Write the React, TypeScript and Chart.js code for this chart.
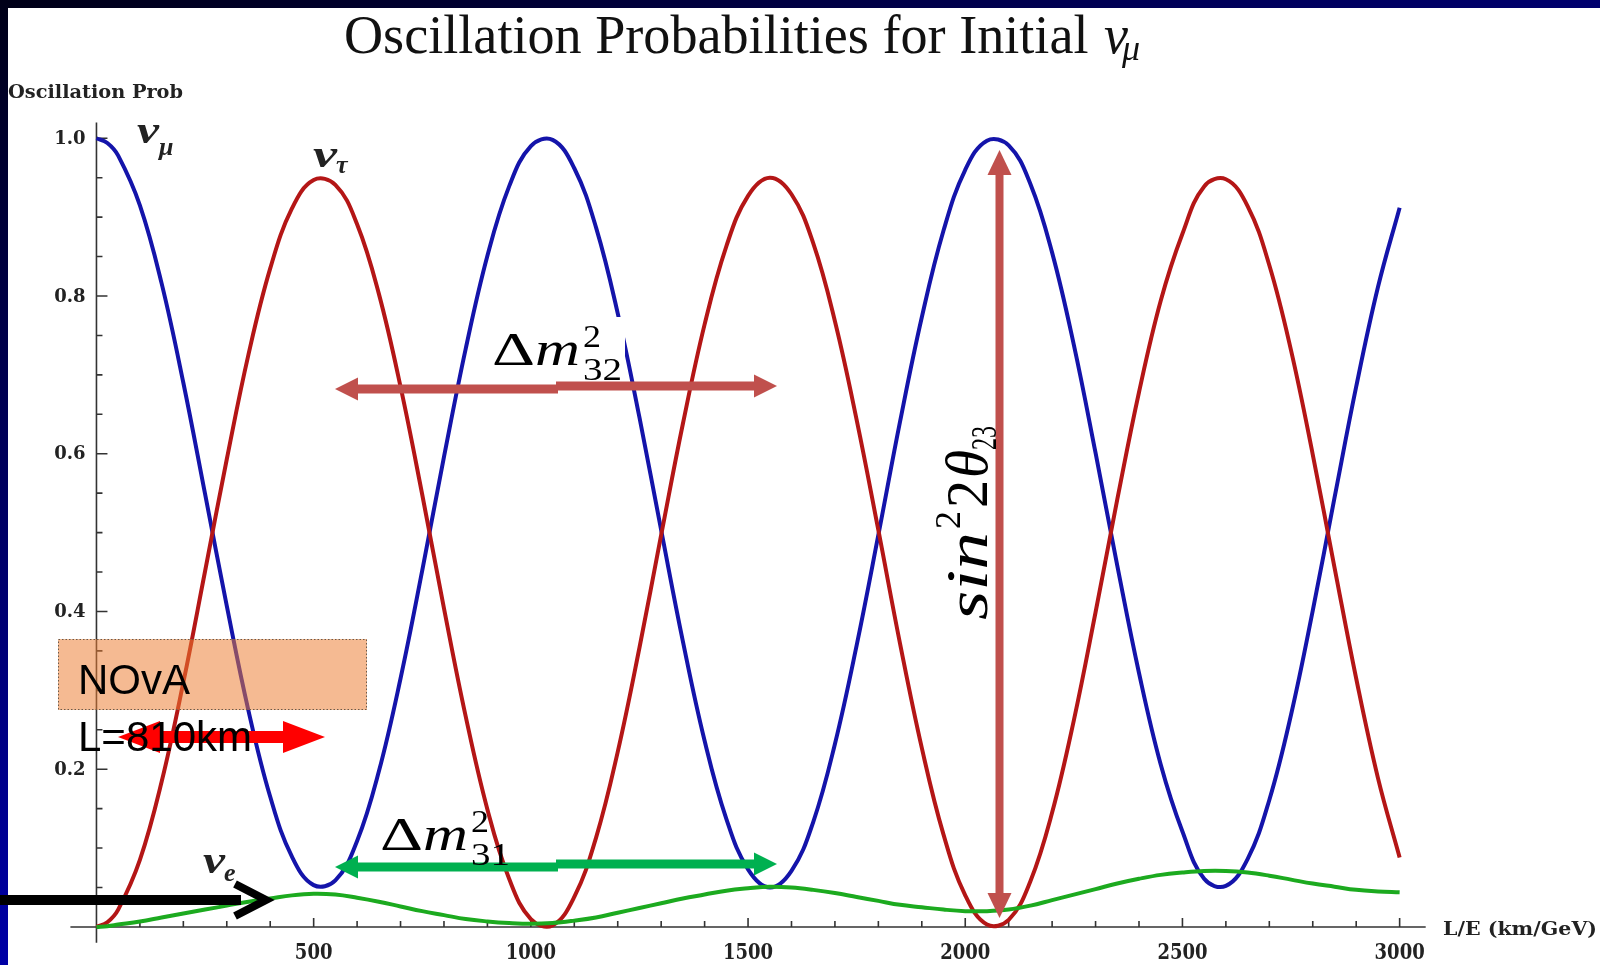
import React, { useEffect, useRef } from "react";
import { Chart, registerables } from "chart.js";

Chart.register(...registerables);

const W = 1600;
const H = 965;

// L/E (km/GeV) sample points
const L_OVER_E = [
  0, 25, 50, 100, 150, 200, 250, 300, 350, 400, 450, 500, 550, 600, 650, 700, 750, 800, 850, 900,
  950, 1000, 1050, 1100, 1150, 1200, 1250, 1300, 1350, 1400, 1450, 1500, 1550, 1600, 1650, 1700,
  1750, 1800, 1850, 1900, 1950, 2000, 2050, 2100, 2150, 2200, 2250, 2300, 2350, 2400, 2450, 2500,
  2550, 2600, 2650, 2700, 2750, 2800, 2850, 2900, 2950, 3000,
];

// nu_mu survival probability (blue)
const P_MU = [
  1.0, 0.994, 0.978, 0.915, 0.816, 0.69, 0.549, 0.407, 0.274, 0.165, 0.089, 0.053, 0.059, 0.109,
  0.197, 0.315, 0.452, 0.596, 0.733, 0.851, 0.939, 0.99, 0.998, 0.962, 0.887, 0.778, 0.646, 0.503,
  0.362, 0.236, 0.137, 0.073, 0.05, 0.071, 0.133, 0.232, 0.357, 0.497, 0.641, 0.773, 0.883, 0.96,
  0.997, 0.991, 0.942, 0.855, 0.738, 0.601, 0.458, 0.322, 0.206, 0.121, 0.061, 0.052, 0.086, 0.161,
  0.269, 0.401, 0.544, 0.685, 0.811, 0.912,
];

// nu_tau appearance probability (red)
const P_TAU = [
  0.0, 0.006, 0.022, 0.085, 0.184, 0.31, 0.451, 0.593, 0.726, 0.835, 0.911, 0.947, 0.941, 0.891,
  0.803, 0.685, 0.548, 0.404, 0.267, 0.149, 0.061, 0.01, 0.002, 0.038, 0.113, 0.222, 0.354, 0.497,
  0.638, 0.764, 0.863, 0.927, 0.95, 0.929, 0.867, 0.768, 0.643, 0.503, 0.359, 0.227, 0.117, 0.04,
  0.003, 0.009, 0.058, 0.145, 0.262, 0.399, 0.542, 0.678, 0.794, 0.879, 0.939, 0.948, 0.914, 0.839,
  0.731, 0.599, 0.456, 0.315, 0.189, 0.088,
];

// nu_e appearance probability (green)
const P_E = [
  0.0, 0.001, 0.003, 0.007, 0.012, 0.017, 0.022, 0.027, 0.032, 0.036, 0.04, 0.042, 0.041, 0.037,
  0.032, 0.026, 0.02, 0.015, 0.01, 0.007, 0.005, 0.004, 0.005, 0.008, 0.012, 0.018, 0.024, 0.03,
  0.036, 0.041, 0.046, 0.049, 0.051, 0.05, 0.047, 0.043, 0.038, 0.033, 0.028, 0.025, 0.022, 0.02,
  0.02, 0.022, 0.027, 0.034, 0.041, 0.048, 0.055, 0.061, 0.066, 0.069, 0.071, 0.071, 0.069, 0.065,
  0.06, 0.055, 0.051, 0.047, 0.045, 0.044,
];

const X_TICK_VALUES = [500, 1000, 1500, 2000, 2500, 3000];
const X_TICK_LABELS = ["500", "1000", "1500", "2000", "2500", "3000"];
const Y_TICK_VALUES = [0.2, 0.4, 0.6, 0.8, 1.0];
const Y_TICK_LABELS = ["0.2", "0.4", "0.6", "0.8", "1.0"];

const TITLE = "Oscillation Probabilities for Initial ";
const Y_TITLE = "Oscillation Prob";
const X_TITLE = "L/E (km/GeV)";

const BLUE = "#1414aa";
const RED = "#b41616";
const GREEN = "#1caa1f";
const ARROW_RED = "#c0504d";
const ARROW_GREEN = "#00b050";
const MATH = "'Liberation Serif'";

function fitText(ctx: CanvasRenderingContext2D, text: string, x: number, y: number, width?: number) {
  const m = ctx.measureText(text).width;
  ctx.save();
  ctx.translate(x, y);
  if (width) ctx.scale(width / m, 1);
  ctx.fillText(text, 0, 0);
  ctx.restore();
}

function hArrow(ctx: CanvasRenderingContext2D, x1: number, x2: number, yL: number, yR: number, xm: number, color: string, shaft: number, headLen: number, headH: number) {
  ctx.save();
  ctx.fillStyle = color;
  ctx.fillRect(x1 + headLen - 1, yL - shaft / 2, xm - (x1 + headLen) + 3, shaft);
  ctx.fillRect(xm, yR - shaft / 2, x2 - headLen - xm + 1, shaft);
  ctx.beginPath();
  ctx.moveTo(x1, yL);
  ctx.lineTo(x1 + headLen, yL - headH / 2);
  ctx.lineTo(x1 + headLen, yL + headH / 2);
  ctx.closePath();
  ctx.fill();
  ctx.beginPath();
  ctx.moveTo(x2, yR);
  ctx.lineTo(x2 - headLen, yR - headH / 2);
  ctx.lineTo(x2 - headLen, yR + headH / 2);
  ctx.closePath();
  ctx.fill();
  ctx.restore();
}

function deltaM(ctx: CanvasRenderingContext2D, x: number, base: number, sub: string) {
  ctx.fillStyle = "#000";
  ctx.font = `46px ${MATH}`;
  fitText(ctx, "\u0394", x, base, 43);
  ctx.font = `italic 48px ${MATH}`;
  fitText(ctx, "m", x + 43, base, 45);
  ctx.font = `32px ${MATH}`;
  fitText(ctx, "2", x + 91, base - 18, 18);
  fitText(ctx, sub, x + 91, base + 15, 39);
}

const overlayPlugin = {
  id: "overlay",
  beforeDraw(chart: any) {
    const ctx: CanvasRenderingContext2D = chart.ctx;
    ctx.save();
    ctx.fillStyle = "#ffffff";
    ctx.fillRect(0, 0, W, H);
    let g = ctx.createLinearGradient(0, 0, W, 0);
    g.addColorStop(0, "#000018");
    g.addColorStop(1, "#00006e");
    ctx.fillStyle = g;
    ctx.fillRect(0, 0, W, 8);
    g = ctx.createLinearGradient(0, 0, 0, H);
    g.addColorStop(0, "#000018");
    g.addColorStop(1, "#0000a6");
    ctx.fillStyle = g;
    ctx.fillRect(0, 0, 8, H);

    // Title
    ctx.fillStyle = "#111";
    ctx.textBaseline = "alphabetic";
    ctx.textAlign = "left";
    ctx.font = "54px 'Liberation Serif'";
    fitText(ctx, TITLE, 344, 53, 758);
    ctx.font = "italic 54px 'Liberation Serif'";
    ctx.fillText("\u03bd", 1104, 53);
    ctx.font = "italic 36px 'Liberation Serif'";
    ctx.fillText("\u03bc", 1122, 60);

    // Y title
    ctx.fillStyle = "#222";
    ctx.font = "bold 18px 'DejaVu Serif'";
    fitText(ctx, Y_TITLE, 8, 98, 175);
    ctx.restore();
  },
  beforeDatasetsDraw(chart: any) {
    const ctx: CanvasRenderingContext2D = chart.ctx;
    const xs = chart.scales.x;
    const ys = chart.scales.y;
    const x0 = xs.getPixelForValue(0);
    const y0 = ys.getPixelForValue(0);
    ctx.save();
    ctx.strokeStyle = "#333";
    ctx.lineWidth = 1.6;
    ctx.beginPath();
    ctx.moveTo(xs.left, y0);
    ctx.lineTo(xs.right, y0);
    ctx.moveTo(x0, ys.top);
    ctx.lineTo(x0, ys.bottom);
    for (let v = 100; v <= 3000; v += 100) {
      const p = xs.getPixelForValue(v);
      const len = v % 500 === 0 ? 9 : 6;
      ctx.moveTo(p, y0);
      ctx.lineTo(p, y0 - len);
    }
    for (let k = 1; k <= 20; k++) {
      const p = ys.getPixelForValue(k * 0.05);
      const len = k % 4 === 0 ? 11 : 6;
      ctx.moveTo(x0, p);
      ctx.lineTo(x0 + len, p);
    }
    ctx.stroke();

    ctx.fillStyle = "#222";
    ctx.font = "bold 18px 'DejaVu Serif'";
    ctx.textAlign = "right";
    ctx.textBaseline = "middle";
    Y_TICK_VALUES.forEach((v, i) => {
      ctx.fillText(Y_TICK_LABELS[i], x0 - 11, ys.getPixelForValue(v) + 1);
    });
    ctx.textAlign = "center";
    ctx.textBaseline = "alphabetic";
    X_TICK_VALUES.forEach((v, i) => {
      const p = xs.getPixelForValue(v);
      ctx.save();
      ctx.translate(p, 959);
      ctx.scale(1, 1.2);
      ctx.fillText(X_TICK_LABELS[i], 0, 0);
      ctx.restore();
    });
    ctx.textAlign = "left";
    ctx.textBaseline = "middle";
    fitText(ctx, X_TITLE, 1443, 930, 154);
    ctx.restore();
  },
  afterDatasetsDraw(chart: any) {
    const ctx: CanvasRenderingContext2D = chart.ctx;
    ctx.save();
    ctx.textAlign = "left";
    ctx.textBaseline = "alphabetic";

    // series labels
    ctx.fillStyle = "#222";
    ctx.font = "bold italic 38px 'Liberation Serif'";
    fitText(ctx, "\u03bd", 137, 143, 22);
    fitText(ctx, "\u03bd", 313, 167, 24);
    fitText(ctx, "\u03bd", 203, 873, 22);
    ctx.font = "bold italic 26px 'Liberation Serif'";
    ctx.fillText("\u03bc", 159, 155);
    ctx.fillText("\u03c4", 336, 173);
    ctx.fillText("e", 224, 881);

    // Delta m^2_32 label with white background
    ctx.fillStyle = "#ffffff";
    ctx.fillRect(485, 317, 140, 66);
    hArrow(ctx, 335, 777, 389, 386, 556, ARROW_RED, 9, 23, 23);
    deltaM(ctx, 492, 365, "32");

    // Delta m^2_31 with green arrow
    hArrow(ctx, 335, 777, 867, 864, 556, ARROW_GREEN, 9, 23, 23);
    deltaM(ctx, 380, 850, "31");

    // vertical sin^2 2theta arrow
    ctx.fillStyle = ARROW_RED;
    const cx = 999.5;
    ctx.fillRect(cx - 4, 172, 8, 724);
    ctx.beginPath();
    ctx.moveTo(cx, 150);
    ctx.lineTo(cx - 12, 175);
    ctx.lineTo(cx + 12, 175);
    ctx.closePath();
    ctx.fill();
    ctx.beginPath();
    ctx.moveTo(cx, 918);
    ctx.lineTo(cx - 12, 893);
    ctx.lineTo(cx + 12, 893);
    ctx.closePath();
    ctx.fill();

    // rotated label
    ctx.save();
    ctx.translate(987, 620);
    ctx.rotate(-Math.PI / 2);
    ctx.fillStyle = "#000";
    ctx.font = `italic 60px ${MATH}`;
    fitText(ctx, "sin", 0, 0, 88);
    ctx.font = `36px ${MATH}`;
    fitText(ctx, "2", 91, -27, 18);
    ctx.font = `60px ${MATH}`;
    fitText(ctx, "2", 112, 0, 28);
    ctx.font = `italic 60px ${MATH}`;
    fitText(ctx, "\u03b8", 142, 0, 28);
    ctx.font = `36px ${MATH}`;
    fitText(ctx, "23", 170, 9, 24);
    ctx.restore();

    // NOvA box (semi-transparent)
    ctx.fillStyle = "rgba(237,125,49,0.53)";
    ctx.fillRect(58, 639, 309, 71);
    ctx.strokeStyle = "#6b5a4a";
    ctx.lineWidth = 1;
    ctx.setLineDash([1.5, 2]);
    ctx.strokeRect(58.5, 639.5, 308, 70);
    ctx.setLineDash([]);
    ctx.fillStyle = "#000";
    ctx.font = "42px 'Liberation Sans'";
    fitText(ctx, "NOvA", 78, 694, 112);

    // red double arrow (NOvA)
    ctx.fillStyle = "#ff0000";
    ctx.fillRect(158, 731, 127, 12);
    ctx.beginPath();
    ctx.moveTo(118, 737);
    ctx.lineTo(160, 721);
    ctx.lineTo(160, 753);
    ctx.closePath();
    ctx.fill();
    ctx.beginPath();
    ctx.moveTo(325, 737);
    ctx.lineTo(283, 721);
    ctx.lineTo(283, 753);
    ctx.closePath();
    ctx.fill();
    ctx.fillStyle = "#000";
    ctx.font = "42px 'Liberation Sans'";
    fitText(ctx, "L=810km", 78, 751, 174);

    // black pointer arrow to nu_e
    ctx.fillStyle = "#000";
    ctx.fillRect(0, 895, 241, 10);
    ctx.strokeStyle = "#000";
    ctx.lineWidth = 8;
    ctx.lineJoin = "miter";
    ctx.beginPath();
    ctx.moveTo(235, 884);
    ctx.lineTo(266, 900);
    ctx.lineTo(235, 916);
    ctx.stroke();

    ctx.restore();
  },
};

export default function App() {
  const ref = useRef<HTMLCanvasElement | null>(null);
  useEffect(() => {
    if (!ref.current) return;
    const mk = (vals: number[]) => vals.map((v, i) => ({ x: L_OVER_E[i], y: v }));
    const common = { borderWidth: 4, pointRadius: 0, tension: 0.4, fill: false };
    const chart = new Chart(ref.current, {
      type: "line",
      data: {
        datasets: [
          { label: "nu_e", data: mk(P_E), borderColor: GREEN, ...common },
          { label: "nu_tau", data: mk(P_TAU), borderColor: RED, ...common },
          { label: "nu_mu", data: mk(P_MU), borderColor: BLUE, ...common },
        ],
      },
      options: {
        responsive: false,
        animation: false,
        devicePixelRatio: 1,
        layout: { padding: { left: 70.4, right: 174.3, top: 122.5, bottom: 22.3 } },
        scales: {
          x: { type: "linear", min: -60, max: 3060, display: false },
          y: { type: "linear", min: -0.02, max: 1.02, display: false },
        },
        plugins: { legend: { display: false }, title: { display: false }, tooltip: { enabled: false } },
      },
      plugins: [overlayPlugin],
    });
    return () => chart.destroy();
  }, []);
  return (
    <div style={{ position: "absolute", left: 0, top: 0, width: W, height: H, overflow: "hidden" }}>
      <canvas ref={ref} width={W} height={H} style={{ display: "block", width: W, height: H }} />
    </div>
  );
}
